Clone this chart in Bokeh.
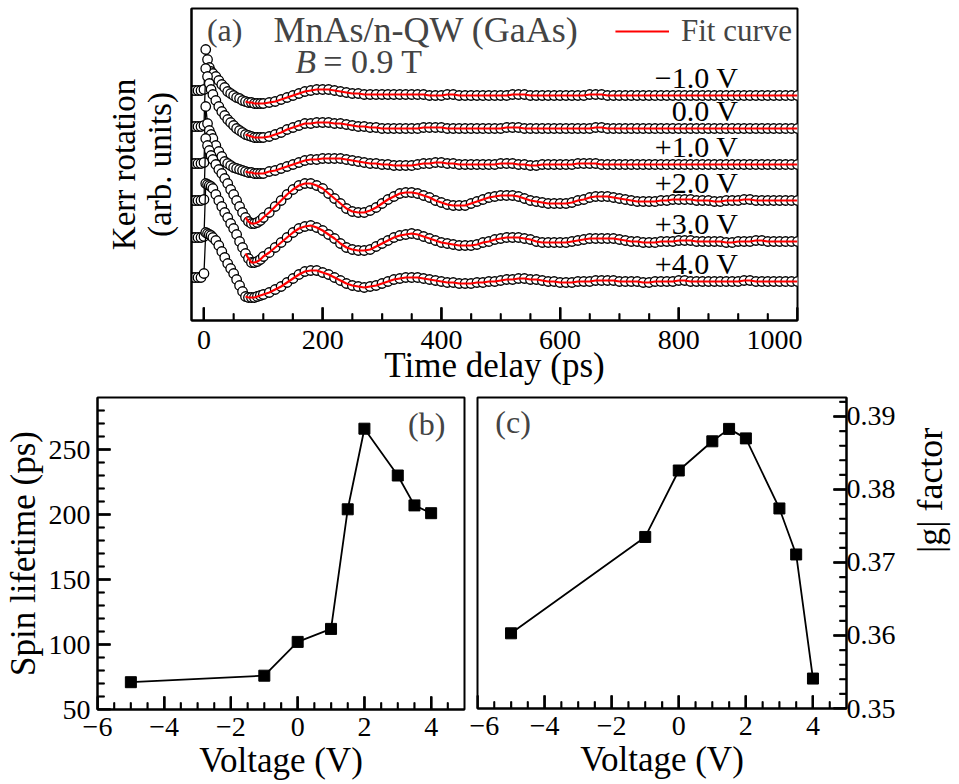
import math
from bokeh.plotting import figure
from bokeh.models import (FixedTicker, Label, Legend, LegendItem, ColumnDataSource, Range1d,
                          BoxAnnotation)
from bokeh.layouts import column, row
from bokeh.embed import file_html
from bokeh.resources import INLINE

FONT = "Liberation Serif"

# ---------------- Panel (a): Kerr rotation traces ----------------
t_early = [-20, -15, -10, -5, 0, 3, 6, 9, 12, 15, 20, 25, 30, 35, 40, 45, 50, 55, 60,
           65, 70, 75, 80, 85, 90, 95]
time_ps = t_early + list(range(100, 1001, 10))
voltage_labels = ["\u22121.0 V", "0.0 V", "+1.0 V", "+2.0 V", "+3.0 V", "+4.0 V"]
trace_offsets = [225, 192, 156, 120, 79, 39]
fit_start_ps = 70

kerr_m1 = [5, 5, 5, 5, 6, 46, 36, 28, 24, 22, 19, 15, 11, 8, 4, 2, 0, -2, -3, -5, -6, -7, -7, -8, -8, -8,
           -8, -7, -6, -4, -2, 0, 2, 4, 5, 6,
           6, 6, 5, 4, 3, 2, 2, 1, 1, 1,
           1, 1, 1, 1, 1, 1, 1, 1, 0, 0,
           0, 1, 1, 0, 0, 0, 0, 0, 0, 0,
           0, 0, 1, 1, 1, 0, 0, 0, 0, 0,
           0, 0, 0, 0, 0, 1, 1, 1, 0, 0,
           0, 0, 0, 0, 0, 0, 0, 0, 0, 0,
           0, 0, 0, 0, 0, 0, 0, 0, 0, 0,
           0, 0, 0, 0, 0, 0, 0, 0, 0, 0,
           0]
kerr_0 = [2, 2, 2, 2, 3, 60, 52, 45, 39, 34, 28, 22, 17, 13, 9, 6, 3, 0, -2, -4, -6, -7, -8, -9, -9, -9,
          -9, -8, -6, -4, -1, 1, 3, 5, 5, 6,
          6, 6, 5, 5, 4, 3, 2, 2, 1, 1,
          0, 0, 0, 0, 0, 0, 0, 1, 1, 1,
          1, 0, 0, 0, 0, 0, 0, 0, 0, 0,
          0, 1, 1, 1, 0, 0, 0, 0, 0, 0,
          0, 0, 0, 0, 0, 0, 1, 1, 0, 0,
          0, 0, 0, 0, 0, 0, 0, 0, 0, 0,
          0, 0, 0, 0, 0, 0, 0, 0, 0, 0,
          0, 0, 0, 0, 0, 0, 0, 0, 0, 0,
          0]
kerr_p1 = [1, 1, 1, 1, 2, 58, 41, 34, 30, 26, 19, 13, 8, 3, 1, -1, -3, -4, -5, -6, -7, -8, -8, -9, -9, -9,
           -9, -7, -6, -4, -2, 0, 2, 4, 5, 5,
           6, 6, 6, 6, 5, 4, 3, 2, 1, 1,
           0, 0, -1, -1, -1, -1, 0, 1, 1, 2,
           2, 1, 1, 0, 0, 0, 0, 0, 0, 0,
           1, 1, 1, 0, 0, -1, -1, 0, 0, 0,
           0, 0, 0, 1, 1, 1, 1, 0, 0, 0,
           0, 0, 0, 0, 0, 0, 0, 0, 0, 0,
           0, 0, 0, 0, 0, 0, 0, 0, 0, 0,
           0, 0, 0, 0, 0, 0, 0, 0, 0, 0,
           0]
kerr_p2 = [0, 0, 0, 0, 1, 62, 55, 50, 45, 41, 36, 31, 27, 22, 17, 11, 6, 0, -6, -12, -17, -21, -23, -23, -22, -20,
           -17, -12, -6, 0, 6, 11, 15, 17, 17, 15,
           12, 7, 2, -3, -8, -11, -12, -12, -10, -7,
           -3, 1, 4, 7, 8, 8, 7, 5, 3, 0,
           -2, -4, -5, -5, -5, -3, -1, 1, 3, 4,
           5, 5, 5, 4, 2, 0, -1, -2, -3, -3,
           -3, -3, -2, 0, 1, 3, 4, 4, 4, 3,
           2, 1, 0, -1, -1, -1, -1, 0, 0, 1,
           1, 1, 1, 0, 0, 0, -1, -1, 0, 0,
           0, 1, 1, 0, 0, 0, 0, 0, 0, 0,
           0]
kerr_p3 = [4, 4, 4, 4, 5, 58, 57, 56, 55, 53, 47, 41, 35, 29, 24, 18, 13, 7, 0, -6, -12, -17, -21, -21, -20, -18,
           -15, -11, -6, -1, 4, 9, 13, 15, 16, 14,
           11, 7, 3, -2, -6, -8, -9, -9, -8, -5,
           -2, 1, 4, 6, 7, 8, 7, 5, 3, 1,
           -1, -2, -3, -4, -4, -4, -3, -1, 0, 2,
           3, 4, 4, 4, 3, 2, 0, -1, -1, -1,
           -1, -1, 0, 1, 2, 3, 3, 3, 3, 3,
           2, 1, 0, 0, -1, -1, -1, 0, 0, 0,
           1, 1, 1, 0, 0, 0, 0, 0, -1, -1,
           0, 0, 0, 1, 1, 0, 0, 0, 0, 0,
           0]
kerr_p4 = [4, 4, 4, 4, 8, 49, 48, 47, 46, 44, 41, 36, 30, 24, 18, 13, 8, 2, -4, -10, -15, -16, -16, -16, -15, -14,
           -13, -11, -8, -5, -1, 3, 7, 10, 11, 11,
           9, 7, 4, 1, -2, -4, -5, -6, -5, -4,
           -2, 0, 2, 3, 4, 4, 4, 3, 2, 1,
           0, -1, -1, -2, -2, -2, -1, -1, 0, 0,
           1, 2, 2, 3, 3, 2, 2, 1, 0, 0,
           -1, -1, -1, 0, 0, 0, 1, 1, 1, 1,
           0, 0, 0, 0, -1, -1, 0, 0, 0, 0,
           1, 1, 0, 0, 0, 0, 0, 0, 0, 0,
           0, 1, 1, 0, 0, 0, 0, 0, 0, 0,
           0]
kerr_traces = [kerr_m1, kerr_0, kerr_p1, kerr_p2, kerr_p3, kerr_p4]

a_xticks = [0, 200, 400, 600, 800, 1000]
a_xminor = [50, 100, 150, 250, 300, 350, 450, 500, 550, 650, 700, 750, 850, 900, 950]

# ---------------- Panels (b), (c) ----------------
voltage = [-5, -1, 0, 1, 1.5, 2, 3, 3.5, 4]
spin_lifetime = [71, 76, 102, 112, 204, 266, 230, 207, 201]
g_factor = [0.3603, 0.3735, 0.3826, 0.3866, 0.3883, 0.3870, 0.3774, 0.3711, 0.3541]

v_ticks = [-6, -4, -2, 0, 2, 4]
v_minor = [-5.5, -5, -4.5, -3.5, -3, -2.5, -1.5, -1, -0.5, 0.5, 1, 1.5, 2.5, 3, 3.5, 4.5]
tau_ticks = [50, 100, 150, 200, 250]
tau_minor = [60, 70, 80, 90, 110, 120, 130, 140, 160, 170, 180, 190, 210, 220, 230, 240,
             260, 270, 280]
g_ticks = [0.35, 0.36, 0.37, 0.38, 0.39]
g_minor = [0.352, 0.354, 0.356, 0.358, 0.362, 0.364, 0.366, 0.368, 0.372, 0.374, 0.376,
           0.378, 0.382, 0.384, 0.386, 0.388, 0.392]

TICK_FS = "28px"
LABEL_FS = "35px"
MAJOR_LEN, MINOR_LEN = 13, 7


def minus(v):
    return str(v).replace("-", "\u2212")


def style_axis(ax, ticks, minor, overrides=None, label_size=LABEL_FS):
    ax.ticker = FixedTicker(ticks=ticks, minor_ticks=minor)
    ax.major_tick_in = MAJOR_LEN
    ax.major_tick_out = 0
    ax.minor_tick_in = MINOR_LEN
    ax.minor_tick_out = 0
    ax.major_tick_line_width = 2
    ax.minor_tick_line_width = 1.5
    ax.major_tick_line_color = "black"
    ax.minor_tick_line_color = "black"
    ax.axis_line_width = 2
    ax.axis_line_color = "black"
    ax.major_label_text_font = FONT
    ax.major_label_text_font_size = TICK_FS
    ax.major_label_text_color = "black"
    ax.axis_label_text_font = FONT
    ax.axis_label_text_font_size = label_size
    ax.axis_label_text_font_style = "normal"
    ax.axis_label_text_color = "black"
    if overrides:
        ax.major_label_overrides = overrides


def inward_ticks(p, side, positions, length_px, width):
    """Inward tick marks: dash markers centred half a tick inside the frame,
    plus filled boxes (pixel sizes converted to data units)."""
    xr, yr = p.x_range, p.y_range
    px_x = (xr.end - xr.start) / p.frame_width
    px_y = (yr.end - yr.start) / p.frame_height
    n = len(positions)
    if side == "bottom":
        cx = list(positions)
        cy = [yr.start + length_px / 2 * px_y] * n
        ang = math.pi / 2
    else:
        edge, sgn = (xr.start, 1) if side == "left" else (xr.end, -1)
        cx = [edge + sgn * length_px / 2 * px_x] * n
        cy = list(positions)
        ang = 0.0
    p.scatter(x=cx, y=cy, marker="dash", size=length_px, angle=ang,
              line_color="black", line_width=width)
    for v in positions:
        if side == "bottom":
            l, r = v - width / 2 * px_x, v + width / 2 * px_x
            b, t = yr.start, yr.start + length_px * px_y
        else:
            far = edge + sgn * length_px * px_x
            l, r = min(edge, far), max(edge, far)
            b, t = v - width / 2 * px_y, v + width / 2 * px_y
        p.add_layout(BoxAnnotation(left=l, right=r, bottom=b, top=t, fill_color="black",
                                   fill_alpha=1.0, line_color=None, line_alpha=0, level="overlay"))


def base_fig(**kw):
    p = figure(output_backend="svg", toolbar_location=None, **kw)
    p.grid.visible = False
    p.outline_line_color = "black"
    p.outline_line_width = 2
    p.background_fill_color = None
    p.border_fill_color = None
    return p


# ----- Panel (a)
pa = base_fig(frame_width=606, frame_height=312, x_range=Range1d(-21, 1000), y_range=Range1d(0, 312),
              min_border_left=191, min_border_right=5, min_border_top=8, min_border_bottom=73)
style_axis(pa.xaxis[0], a_xticks, a_xminor)
pa.xaxis.axis_label = "Time delay (ps)"
pa.xaxis.major_label_standoff = 10
pa.xaxis.axis_label_standoff = -6
style_axis(pa.yaxis[0], [], [], label_size="33px")
pa.yaxis.axis_label = "Kerr rotation\n(arb. units)"
pa.yaxis.axis_label_standoff = 14
pa.yaxis.axis_label_text_line_height = 1.0

fit_renderers = []
for vals, off, lab in zip(kerr_traces, trace_offsets, voltage_labels):
    ys = [off + v for v in vals]
    src = ColumnDataSource(dict(t=time_ps, y=ys))
    fit_t = [t for t in time_ps if t >= fit_start_ps]
    fit_y = [y for t, y in zip(time_ps, ys) if t >= fit_start_ps]
    pa.line("t", "y", source=src, line_color="black", line_width=1.3)
    pa.scatter("t", "y", source=src, marker="circle", size=9.5, fill_color="white",
               line_color="black", line_width=1.3)
    r = pa.line(fit_t, fit_y, line_color="red", line_width=2.2)
    fit_renderers.append(r)
    pa.add_layout(Label(x=900.5, y=off + 18, text=lab, text_align="right", text_baseline="middle",
                        text_font=FONT, text_font_size="30px", text_color="black"))

inward_ticks(pa, "bottom", a_xticks, MAJOR_LEN, 2)
inward_ticks(pa, "bottom", a_xminor, MINOR_LEN, 1.5)

pa.add_layout(Label(x=5, y=291, text="(a)", text_align="left", text_baseline="middle",
                    text_font=FONT, text_font_size="32px"))
pa.add_layout(Label(x=117, y=291, text="MnAs/n-QW (GaAs)", text_align="left", text_baseline="middle",
                    text_font=FONT, text_font_size="36px"))
pa.add_layout(Label(x=154, y=259, text="B", text_align="left", text_baseline="middle",
                    text_font=FONT, text_font_size="34px", text_font_style="italic"))
pa.add_layout(Label(x=201, y=259, text="= 0.9 T", text_align="left", text_baseline="middle",
                    text_font=FONT, text_font_size="34px"))

legend = Legend(items=[LegendItem(label="Fit curve", renderers=[fit_renderers[0]])],
                location="top_right", border_line_alpha=0, background_fill_alpha=0,
                glyph_width=54, glyph_height=24, label_standoff=12, padding=0, margin=5,
                label_text_font=FONT, label_text_font_size="31px")
pa.add_layout(legend)

# ----- Panel (b)
pb = base_fig(frame_width=367, frame_height=312, x_range=Range1d(-6, 5), y_range=Range1d(50, 290),
              min_border_left=97, min_border_right=5, min_border_top=4, min_border_bottom=73)
style_axis(pb.xaxis[0], v_ticks, v_minor, {v: minus(v) for v in v_ticks})
style_axis(pb.yaxis[0], tau_ticks, tau_minor)
pb.xaxis.axis_label = "Voltage (V)"
pb.yaxis.axis_label = "Spin lifetime (ps)"
pb.xaxis.major_label_standoff = 8
pb.yaxis.major_label_standoff = 7
pb.xaxis.axis_label_standoff = 2
pb.yaxis.axis_label_standoff = 3
pb.line(voltage, spin_lifetime, line_color="black", line_width=1.8)
pb.scatter(voltage, spin_lifetime, marker="square", size=11, fill_color="black", line_color="black")
inward_ticks(pb, "bottom", v_ticks, MAJOR_LEN, 2)
inward_ticks(pb, "bottom", v_minor, MINOR_LEN, 1.5)
inward_ticks(pb, "left", tau_ticks, MAJOR_LEN, 2)
inward_ticks(pb, "left", tau_minor, MINOR_LEN, 1.5)
pb.add_layout(Label(x=3.31, y=270, text="(b)", text_align="left", text_baseline="middle",
                    text_font=FONT, text_font_size="32px"))

# ----- Panel (c)
pc = base_fig(frame_width=369, frame_height=311, x_range=Range1d(-6, 5), y_range=Range1d(0.35, 0.3926),
              y_axis_location="right",
              min_border_left=8, min_border_right=106, min_border_top=4, min_border_bottom=73)
style_axis(pc.xaxis[0], v_ticks, v_minor, {v: minus(v) for v in v_ticks})
style_axis(pc.yaxis[0], g_ticks, g_minor, {v: f"{v:.2f}" for v in g_ticks}, label_size="36px")
pc.xaxis.axis_label = "Voltage (V)"
pc.yaxis.axis_label = "|g| factor"
pc.xaxis.major_label_standoff = 8
pc.yaxis.major_label_standoff = 0
pc.xaxis.axis_label_standoff = 2
pc.yaxis.axis_label_standoff = 31
if hasattr(pc.yaxis[0], "axis_label_orientation"):
    pc.yaxis.axis_label_orientation = math.pi / 2
pc.line(voltage, g_factor, line_color="black", line_width=1.8)
pc.scatter(voltage, g_factor, marker="square", size=11, fill_color="black", line_color="black")
inward_ticks(pc, "bottom", v_ticks, MAJOR_LEN, 2)
inward_ticks(pc, "bottom", v_minor, MINOR_LEN, 1.5)
inward_ticks(pc, "right", g_ticks, MAJOR_LEN, 2)
inward_ticks(pc, "right", g_minor, MINOR_LEN, 1.5)
pc.add_layout(Label(x=-5.47, y=0.3892, text="(c)", text_align="left", text_baseline="middle",
                    text_font=FONT, text_font_size="32px"))

layout = column(pa, row(pb, pc))
open("out.html", "w").write(file_html(layout, INLINE))
